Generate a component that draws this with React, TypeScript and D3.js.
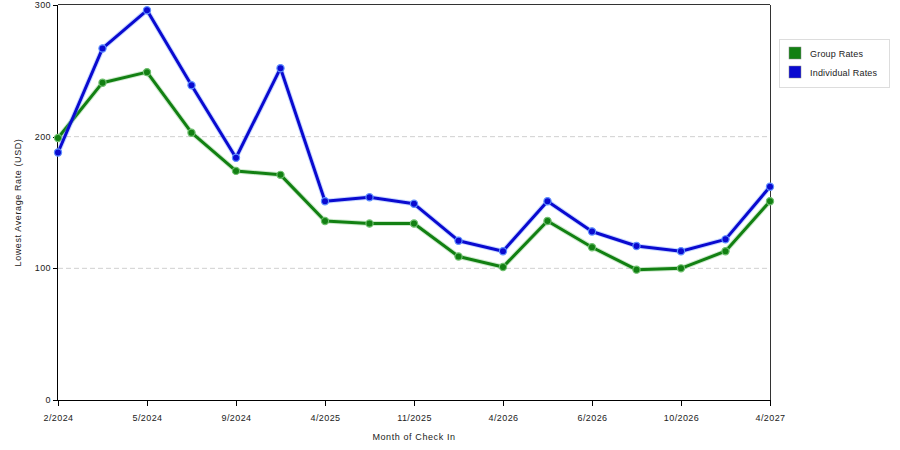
import { useMemo } from 'react';
import * as d3 from 'd3';

const months = [
  '2/2024', '3/2024', '5/2024', '7/2024', '9/2024', '12/2024', '4/2025', '8/2025', '11/2025',
  '1/2026', '4/2026', '5/2026', '6/2026', '8/2026', '10/2026', '1/2027', '4/2027',
];
const tickMonths = ['2/2024', '5/2024', '9/2024', '4/2025', '11/2025', '4/2026', '6/2026', '10/2026', '4/2027'];

const groupRates = [199, 241, 249, 203, 174, 171, 136, 134, 134, 109, 101, 136, 116, 99, 100, 113, 151];
const individualRates = [188, 267, 296, 239, 184, 252, 151, 154, 149, 121, 113, 151, 128, 117, 113, 122, 162];

const yTicks = [0, 100, 200, 300];
const gridTicks = [100, 200];

const seriesList = [
  { name: 'Group Rates', values: groupRates, color: '#128012', halo: '#6fbf6f' },
  { name: 'Individual Rates', values: individualRates, color: '#0a0ad0', halo: '#5f8fff' },
];

const width = 900;
const height = 450;
const margin = { left: 58, right: 130, top: 5, bottom: 50 };

export default function App() {
  const x = useMemo(
    () => d3.scalePoint<string>().domain(months).range([margin.left, width - margin.right]),
    []
  );
  const y = useMemo(
    () => d3.scaleLinear().domain([0, 300]).range([height - margin.bottom, margin.top]),
    []
  );

  const line = d3.line<number>()
    .x((_, i) => x(months[i]) as number)
    .y(d => y(d));

  const x0 = margin.left;
  const x1 = width - margin.right;
  const y0 = height - margin.bottom;
  const y1 = margin.top;
  const font = "'Liberation Sans', Arial, sans-serif";

  return (
    <svg
      width={width}
      height={height}
      style={{ position: 'absolute', left: 0, top: 0, background: '#fff' }}
      fontFamily={font}
    >
      {/* grid */}
      {gridTicks.map(t => (
        <line key={t} x1={x0} x2={x1} y1={y(t)} y2={y(t)}
          stroke="#d0d0d0" strokeDasharray="5,3" strokeWidth={1} />
      ))}

      {/* frame */}
      <line x1={x0} x2={x1} y1={y1 - 0.5} y2={y1 - 0.5} stroke="#333" />
      <line x1={x1 + 0.5} x2={x1 + 0.5} y1={y1} y2={y0} stroke="#333" />
      <line x1={x0 - 0.5} x2={x0 - 0.5} y1={y1} y2={y0} stroke="#000" />
      <line x1={x0} x2={x1} y1={y0 + 0.5} y2={y0 + 0.5} stroke="#000" />

      {/* y axis */}
      {yTicks.map(t => (
        <g key={t} transform={`translate(0,${Math.round(y(t)) + 0.5})`}>
          <line x1={x0 - 5} x2={x0} stroke="#000" />
          <text x={x0 - 7} dy="0.32em" textAnchor="end" fontSize={9} fill="#222" letterSpacing={0.4}>{t}</text>
        </g>
      ))}
      <text
        transform={`translate(21,${(y0 + y1) / 2}) rotate(-90)`}
        textAnchor="middle" fontSize={9} fill="#222" letterSpacing={0.6}
      >
        Lowest Average Rate (USD)
      </text>

      {/* x axis */}
      {tickMonths.map(m => (
        <g key={m} transform={`translate(${Math.round(x(m) as number) + 0.5},0)`}>
          <line y1={y0} y2={y0 + 6} stroke="#000" />
          <text y={y0 + 21} textAnchor="middle" fontSize={9} fill="#222" letterSpacing={0.4}>{m}</text>
        </g>
      ))}
      <text x={(x0 + x1) / 2} y={y0 + 40} textAnchor="middle" fontSize={9} fill="#222" letterSpacing={0.6}>
        Month of Check In
      </text>

      {/* series */}
      {seriesList.map(s => (
        <g key={s.name}>
          <path d={line(s.values) ?? ''} fill="none" stroke={s.halo} strokeOpacity={0.35} strokeWidth={5} strokeLinejoin="round" />
          <path d={line(s.values) ?? ''} fill="none" stroke={s.color} strokeWidth={3} strokeLinejoin="round" />
          {s.values.map((v, i) => (
            <circle key={i} cx={x(months[i])} cy={y(v)} r={3.6}
              fill={s.color} stroke={s.halo} strokeWidth={1.2} />
          ))}
        </g>
      ))}

      {/* legend */}
      <rect x={779.5} y={39.5} width={110} height={48} fill="#fff" stroke="#ddd" />
      {seriesList.map((s, i) => (
        <g key={s.name} transform={`translate(789,${47 + i * 19})`}>
          <rect width={12} height={12} fill={s.color} stroke="#888" strokeWidth={0.5} />
          <text x={21} y={7} dy="0.35em" fontSize={9} fill="#222" letterSpacing={0.2}>{s.name}</text>
        </g>
      ))}
    </svg>
  );
}
